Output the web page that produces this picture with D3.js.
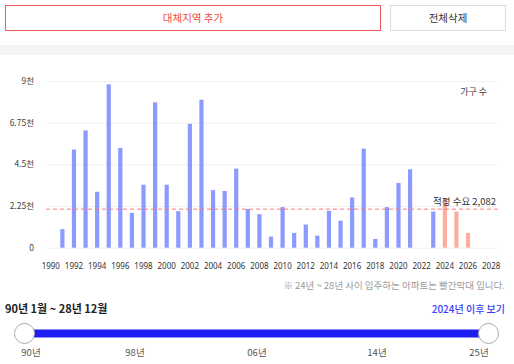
<!DOCTYPE html>
<html>
<head>
<meta charset="utf-8">
<script src="https://cdn.jsdelivr.net/npm/d3@7"></script>
<style>
  body { margin: 0; background: #fff; }
  svg { display: block; font-family: "Noto Sans CJK KR", "Noto Sans", sans-serif; }
</style>
</head>
<body>
<svg id="chart" width="514" height="364"></svg>
<script>
// categories
const years = [1990, 1991, 1992, 1993, 1994, 1995, 1996, 1997, 1998, 1999,
  2000, 2001, 2002, 2003, 2004, 2005, 2006, 2007, 2008, 2009,
  2010, 2011, 2012, 2013, 2014, 2015, 2016, 2017, 2018, 2019,
  2020, 2021, 2022, 2023, 2024, 2025, 2026, 2027, 2028];
// households moved in (past, blue)
const pastYears = [1990, 1991, 1992, 1993, 1994, 1995, 1996, 1997, 1998, 1999,
  2000, 2001, 2002, 2003, 2004, 2005, 2006, 2007, 2008, 2009,
  2010, 2011, 2012, 2013, 2014, 2015, 2016, 2017, 2018, 2019,
  2020, 2021, 2022, 2023];
const pastValues = [0, 1000, 5300, 6330, 3020, 8820, 5390, 1880, 3400, 7850,
  3400, 1970, 6690, 7990, 3110, 3060, 4270, 2090, 1810, 600,
  2190, 800, 1250, 650, 1990, 1460, 2710, 5350, 470, 2190,
  3490, 4230, 0, 1950];
// planned move-ins (red)
const futureYears = [2024, 2025, 2026, 2027, 2028];
const futureValues = [2620, 1950, 800, 0, 0];

const demand = 2082;
const yTicks = [0, 2250, 4500, 6750, 9000];
const yTickLabels = ["0", "2.25천", "4.5천", "6.75천", "9천"];
const xTickYears = [1990, 1992, 1994, 1996, 1998, 2000, 2002, 2004, 2006, 2008,
  2010, 2012, 2014, 2016, 2018, 2020, 2022, 2024, 2026, 2028];
const sliderTicks = ["90년", "98년", "06년", "14년", "25년"];

const svg = d3.select("#chart");

// top buttons
svg.append("rect").attr("x", 5.5).attr("y", 5.5).attr("width", 375).attr("height", 25)
  .attr("fill", "#fff").attr("stroke", "#f05a5a");
svg.append("text").attr("x", 193).attr("y", 22).attr("text-anchor", "middle")
  .attr("font-size", 10.5).attr("fill", "#f04848").text("대체지역 추가");
svg.append("rect").attr("x", 390.5).attr("y", 5.5).attr("width", 115).attr("height", 25)
  .attr("fill", "#fff").attr("stroke", "#dcdcdc");
svg.append("text").attr("x", 448).attr("y", 22).attr("text-anchor", "middle")
  .attr("font-size", 10.5).attr("fill", "#333").text("전체삭제");

// gray divider band
svg.append("rect").attr("x", 0).attr("y", 45).attr("width", 514).attr("height", 10)
  .attr("fill", "#f4f4f4");

// scales
const x = d3.scalePoint().domain(years).range([45, 497]).padding(0.5);
const y = d3.scaleLinear().domain([0, 9000]).range([247.7, 81]);
const barW = 4.2;

// grid
svg.append("g").selectAll("line").data(yTicks).join("line")
  .attr("x1", 46).attr("x2", 498)
  .attr("y1", d => y(d) + 0.5).attr("y2", d => y(d) + 0.5)
  .attr("stroke", "#f0f0f0");

// y labels
svg.append("g").selectAll("text").data(yTicks).join("text")
  .attr("x", 34).attr("y", d => y(d) + 3)
  .attr("text-anchor", "end").attr("font-size", 8.5).attr("fill", "#444")
  .text((d, i) => yTickLabels[i]);

// x labels
svg.append("g").selectAll("text").data(xTickYears).join("text")
  .attr("x", d => x(d)).attr("y", 268.5)
  .attr("text-anchor", "middle").attr("font-size", 8).attr("fill", "#333")
  .attr("font-family", "Noto Sans, sans-serif")
  .text(d => d);

// bars
svg.append("g").selectAll("rect").data(pastYears.map((yr, i) => [yr, pastValues[i]]).filter(d => d[1] > 0))
  .join("rect")
  .attr("x", d => x(d[0]) - barW / 2).attr("width", barW)
  .attr("y", d => y(d[1])).attr("height", d => y(0) - y(d[1]))
  .attr("fill", "#8c99ff");
svg.append("g").selectAll("rect").data(futureYears.map((yr, i) => [yr, futureValues[i]]).filter(d => d[1] > 0))
  .join("rect")
  .attr("x", d => x(d[0]) - barW / 2).attr("width", barW)
  .attr("y", d => y(d[1])).attr("height", d => y(0) - y(d[1]))
  .attr("fill", "#ffae9e");

// demand line
svg.append("line").attr("x1", 46).attr("x2", 498)
  .attr("y1", y(demand)).attr("y2", y(demand))
  .attr("stroke", "#ff7878").attr("stroke-dasharray", "4,3");
svg.append("text").attr("x", 496).attr("y", y(demand) - 4)
  .attr("text-anchor", "end").attr("font-size", 9.5).attr("fill", "#333")
  .text("적정 수요 " + d3.format(",")(demand));

svg.append("text").attr("x", 487).attr("y", 95)
  .attr("text-anchor", "end").attr("font-size", 9).attr("fill", "#444").text("가구 수");

// footnote
svg.append("text").attr("x", 505).attr("y", 289)
  .attr("text-anchor", "end").attr("font-size", 9.5).attr("fill", "#9a9a9a")
  .text("※ 24년 ~ 28년 사이 입주하는 아파트는 빨간막대 입니다.");

svg.append("text").attr("x", 5).attr("y", 313)
  .attr("font-size", 11).attr("font-weight", 600).attr("fill", "#222")
  .text("90년 1월 ~ 28년 12월");
svg.append("text").attr("x", 505).attr("y", 313)
  .attr("text-anchor", "end").attr("font-size", 10).attr("font-weight", 500).attr("fill", "#3b3bff")
  .text("2024년 이후 보기");

// slider
const s = d3.scaleLinear().domain([0, sliderTicks.length - 1]).range([24.5, 488.5]);
svg.append("rect").attr("x", s(0)).attr("y", 329.5).attr("width", s(4) - s(0)).attr("height", 8)
  .attr("fill", "#1f1ff5");
svg.append("g").selectAll("circle").data([0, 4]).join("circle")
  .attr("cx", d => s(d)).attr("cy", 333.5).attr("r", 10)
  .attr("fill", "#fff").attr("stroke", "#aaa");
const sliderX = [31, 135, 257, 377, 479];
svg.append("g").selectAll("text").data(sliderTicks).join("text")
  .attr("x", (d, i) => sliderX[i]).attr("y", 356)
  .attr("text-anchor", "middle").attr("font-size", 9.5).attr("fill", "#555")
  .text(d => d);
</script>
</body>
</html>
